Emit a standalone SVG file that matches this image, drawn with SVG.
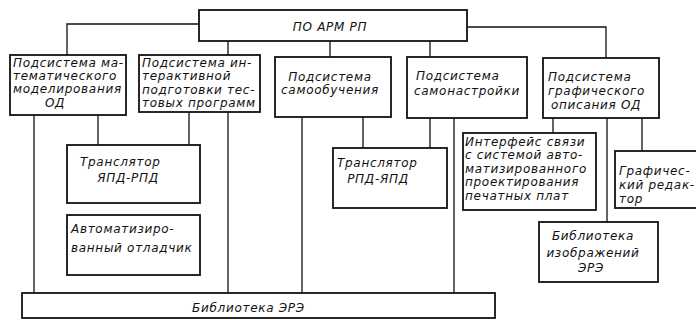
<svg xmlns="http://www.w3.org/2000/svg" width="696" height="320" viewBox="0 0 696 320">
<style>
rect.n{fill:#fff;stroke:#111;stroke-width:1.8}
#connectors path{fill:none;stroke:#111;stroke-width:1.3}
text{font-family:"DejaVu Sans","Liberation Sans",sans-serif;font-style:italic;font-size:12px;letter-spacing:0.7px;fill:#111}
.m{text-anchor:middle}
</style>
<rect width="696" height="320" fill="#fff"/>
<g id="connectors">
<path d="M199 24H67V55"/>
<path d="M228 41V55"/>
<path d="M330 41V57"/>
<path d="M430 41V57"/>
<path d="M467 27H606V58"/>
<path d="M34 115V293"/>
<path d="M98 115V145"/>
<path d="M189 112V145"/>
<path d="M228 112V293"/>
<path d="M302 117V293"/>
<path d="M363 117V148"/>
<path d="M430 118V148"/>
<path d="M454 118V293"/>
<path d="M553 118V133"/>
<path d="M607 118V222"/>
<path d="M642 118V151"/>
</g>
<g id="top">
<rect class="n" x="199" y="10" width="268" height="31"/>
<text class="m" x="330" y="31">ПО АРМ РП</text>
</g>
<g id="sub1">
<rect class="n" x="10" y="55" width="116" height="60"/>
<text x="13" y="67">Подсистема ма-</text>
<text x="13" y="80">тематического</text>
<text x="13" y="93">моделирования</text>
<text class="m" x="55" y="107">ОД</text>
</g>
<g id="sub2">
<rect class="n" x="139" y="55" width="121" height="57"/>
<text x="142" y="67">Подсистема ин-</text>
<text x="142" y="80">терактивной</text>
<text x="142" y="94">подготовки тес-</text>
<text x="142" y="107">товых программ</text>
</g>
<g id="sub3">
<rect class="n" x="275" y="57" width="116" height="60"/>
<text class="m" x="330" y="81">Подсистема</text>
<text class="m" x="330" y="94">самообучения</text>
</g>
<g id="sub4">
<rect class="n" x="407" y="57" width="120" height="61"/>
<text x="416" y="80">Подсистема</text>
<text x="414" y="95">самонастройки</text>
</g>
<g id="sub5">
<rect class="n" x="543" y="58" width="116" height="60"/>
<text x="548" y="81">Подсистема</text>
<text x="548" y="95">графического</text>
<text x="551" y="109">описания ОД</text>
</g>
<g id="tr1">
<rect class="n" x="67" y="145" width="133" height="58"/>
<text x="80" y="166">Транслятор</text>
<text class="m" x="128" y="182">ЯПД-РПД</text>
</g>
<g id="debug">
<rect class="n" x="67" y="215" width="133" height="60"/>
<text x="71" y="233">Автоматизиро-</text>
<text x="71" y="252">ванный отладчик</text>
</g>
<g id="tr2">
<rect class="n" x="333" y="148" width="114" height="60"/>
<text x="337" y="167">Транслятор</text>
<text class="m" x="378" y="183">РПД-ЯПД</text>
</g>
<g id="iface">
<rect class="n" x="463" y="133" width="133" height="77"/>
<text x="465" y="146">Интерфейс связи</text>
<text x="465" y="159">с системой авто-</text>
<text x="465" y="173">матизированного</text>
<text x="465" y="186">проектирования</text>
<text x="465" y="200">печатных плат</text>
</g>
<g id="gred">
<rect class="n" x="615" y="151" width="90" height="57"/>
<text x="619" y="175">Графичес-</text>
<text x="619" y="189">кий редак-</text>
<text x="619" y="203">тор</text>
</g>
<g id="imglib">
<rect class="n" x="539" y="222" width="119" height="60"/>
<text class="m" x="593" y="240">Библиотека</text>
<text class="m" x="593" y="257">изображений</text>
<text class="m" x="591" y="272">ЭРЭ</text>
</g>
<g id="lib">
<rect class="n" x="22" y="293" width="473" height="25"/>
<text x="192" y="312">Библиотека  ЭРЭ</text>
</g>
</svg>
